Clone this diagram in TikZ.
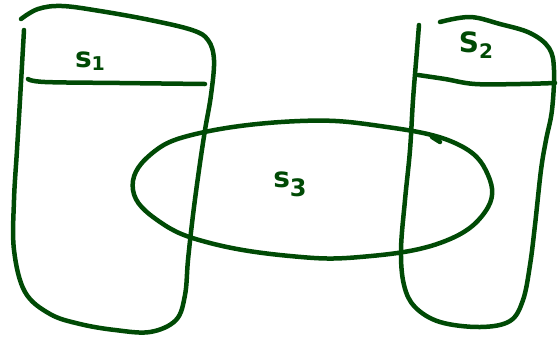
\documentclass[tikz,border=0pt]{standalone}
\usepackage{fontspec}
\setmainfont{DejaVu Sans}
\definecolor{ink}{HTML}{004A05}
\begin{document}
\begin{tikzpicture}[x=1pt,y=-1pt,
  pen/.style={draw=ink,line width=4.5pt,line cap=round,line join=round},
  lbl/.style={text=ink,font=\bfseries\fontsize{28}{28}\selectfont,inner sep=0pt}]
\useasboundingbox (0,0) rectangle (559,341);
% left box S1
\draw[pen] plot[smooth,tension=0.6] coordinates {(21,19) (38,9) (62,6) (100,11) (150,20) (192,30) (208,40) (214,60) (211,95) (205,130) (199,170) (193,215) (188,260) (185,295) (176,320) (150,332) (115,330) (80,324) (50,314) (25,292) (14,250) (14,200) (17,150) (20,100) (24,30)};
\draw[pen] plot[smooth,tension=0.6] coordinates {(28,79) (45,82) (120,83) (205,84)};
% right box S2
\draw[pen] plot[smooth,tension=0.6] coordinates {(419,25) (417,50) (413,100) (410,150) (405,200) (401,250) (404,285) (415,307) (440,322) (480,327) (510,321) (523,300) (530,265) (535,225) (541,170) (546,140) (552,110) (554,70) (549,48) (530,33) (500,24) (470,17) (440,22)};
\draw[pen] plot[smooth,tension=0.6] coordinates {(418,75) (445,79) (475,84) (520,84) (555,83)};
% ellipse S3
\draw[pen] plot[smooth cycle,tension=0.7] coordinates {(300,121) (380,126) (455,143) (488,175) (485,212) (440,243) (360,257) (290,256) (210,243) (160,222) (133,190) (150,155) (200,133)};
\draw[pen] (432,137) -- (440,142);
% labels
\node[lbl] (s1) at (90,61) {s\raisebox{-3pt}{\fontsize{19}{19}\selectfont 1}};
\node[lbl] (s2) at (476,45) {S\raisebox{-6pt}{\fontsize{20}{20}\selectfont 2}};
\node[lbl] (s3) at (290,184) {s\raisebox{-9pt}{\fontsize{24}{24}\selectfont 3}};
\end{tikzpicture}
\end{document}
